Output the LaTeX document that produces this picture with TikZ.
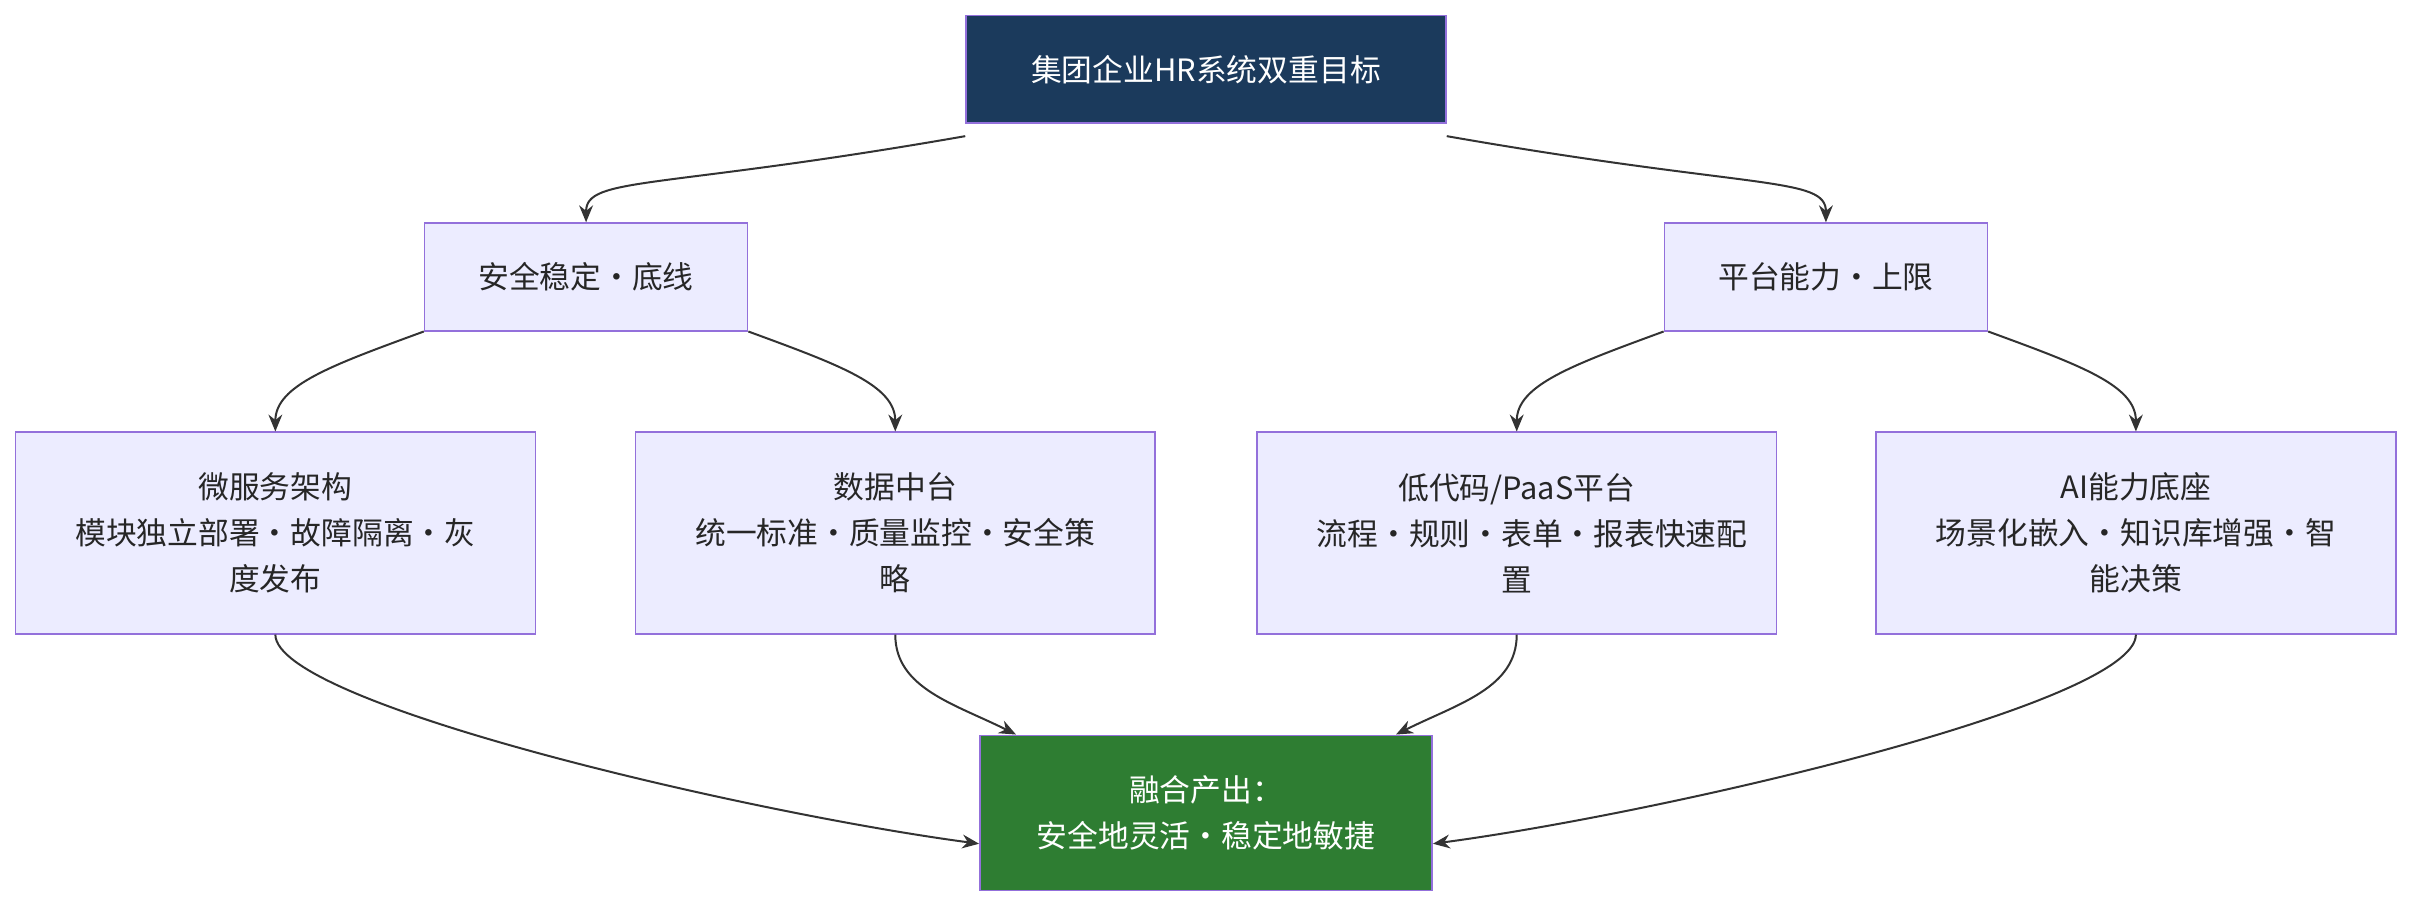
\documentclass[tikz,border=0pt]{standalone}
\usepackage{fontspec}
\setmainfont{Noto Sans CJK SC}
\usetikzlibrary{positioning,arrows.meta}
\definecolor{boxfill}{HTML}{ECECFF}
\definecolor{boxline}{HTML}{9370DB}
\definecolor{navy}{HTML}{1B3A5C}
\definecolor{leaf}{HTML}{2E7D32}
\definecolor{edge}{HTML}{333333}
\tikzset{
  box/.style={draw=boxline, fill=boxfill, line width=1pt, align=center,
    inner sep=0pt, font=\fontsize{20}{30}\selectfont, text=black!85},
  link/.style={draw=edge, line width=1.3pt, -{Stealth[length=11pt,width=9pt]}}
}
\begin{document}
\begin{tikzpicture}[x=1pt,y=-1pt]
  \useasboundingbox (0,0) rectangle (1568,590);

  \node[box, fill=navy, text=white, minimum width=312pt, minimum height=70pt] (top) at (784,45) {集团企业HR系统双重目标};

  \node[box, minimum width=210pt, minimum height=70pt] (safe) at (381,180) {安全稳定·底线};
  \node[box, minimum width=210pt, minimum height=70pt] (plat) at (1187,180) {平台能力·上限};

  \node[box, minimum width=338pt, minimum height=131pt, text width=260pt] (micro) at (179,346.5) {微服务架构\\模块独立部署·故障隔离·灰\\度发布};
  \node[box, minimum width=338pt, minimum height=131pt, text width=260pt] (data) at (582,346.5) {数据中台\\统一标准·质量监控·安全策\\略};
  \node[box, minimum width=338pt, minimum height=131pt, text width=260pt] (lowcode) at (986,346.5) {低代码/PaaS平台\\流程·规则·表单·报表快速配\\置};
  \node[box, minimum width=338pt, minimum height=131pt, text width=260pt] (ai) at (1388.5,346.5) {AI能力底座\\场景化嵌入·知识库增强·智\\能决策};

  \node[box, fill=leaf, text=white, minimum width=294pt, minimum height=101pt] (out) at (784,528.5) {融合产出：\\安全地灵活·稳定地敏捷};

  % upper tree
  \draw[link] ([yshift=-8pt]top.south west) .. controls +(-200,35) and +(0,-30) .. (safe.north);
  \draw[link] ([yshift=-8pt]top.south east) .. controls +(200,35) and +(0,-30) .. (plat.north);
  \draw[link] (safe.south west) .. controls +(-60,22) and +(0,-30) .. (micro.north);
  \draw[link] (safe.south east) .. controls +(60,22) and +(0,-30) .. (data.north);
  \draw[link] (plat.south west) .. controls +(-60,22) and +(0,-30) .. (lowcode.north);
  \draw[link] (plat.south east) .. controls +(60,22) and +(0,-30) .. (ai.north);

  % merge
  \draw[link] (micro.south) .. controls +(0,45) and +(-150,-20) .. ([yshift=-20pt]out.west);
  \draw[link] (data.south) .. controls +(0,35) and +(-40,-20) .. ([xshift=24pt]out.north west);
  \draw[link] (lowcode.south) .. controls +(0,35) and +(40,-20) .. ([xshift=-24pt]out.north east);
  \draw[link] (ai.south) .. controls +(0,45) and +(150,-20) .. ([yshift=-20pt]out.east);
\end{tikzpicture}
\end{document}
